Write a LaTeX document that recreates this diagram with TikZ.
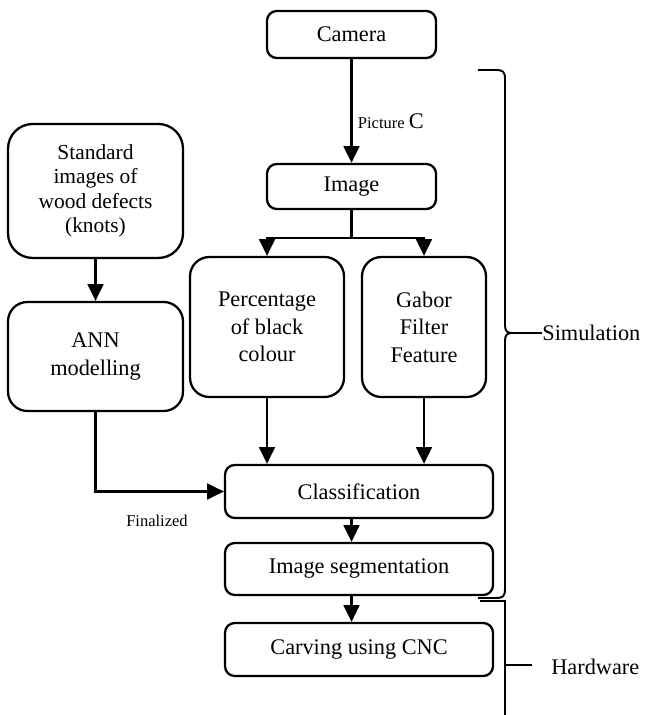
\documentclass[tikz,border=0pt]{standalone}
\usepackage{fontspec}
\setmainfont{Liberation Serif}
\usetikzlibrary{arrows.meta}

\tikzset{
  blk/.style={draw, line width=1.3pt, rounded corners=5.5pt, align=center, inner sep=2pt,
    font=\fontsize{12.7}{15.6}\selectfont},
  tallblk/.style={blk, rounded corners=11pt},
  arr/.style={line width=1.3pt, -{Triangle[length=9.5pt,width=9pt]}},
  lbl/.style={inner sep=0pt, font=\fontsize{12.7}{15.6}\selectfont},
  smalllbl/.style={inner sep=0pt, font=\fontsize{9.4}{11}\selectfont},
}

\begin{document}
\begin{tikzpicture}[x=0.02cm,y=-0.02cm]
\useasboundingbox (0,0) rectangle (646,715);

% blocks
\node[blk, minimum width=3.38cm, minimum height=0.94cm] (camera) at (351.5,34.5) {Camera};
\node[blk, minimum width=3.38cm, minimum height=0.9cm] (image) at (351.5,186.5) {Image};
\node[tallblk, rounded corners=14pt, minimum width=3.5cm, minimum height=2.68cm,
  font=\fontsize{12.2}{13.9}\selectfont] (std) at (95.5,191)
  {Standard\\images of\\wood defects\\(knots)};
\node[tallblk, minimum width=3.5cm, minimum height=2.18cm] (ann) at (95.5,356.5) {ANN\\modelling};
\node[tallblk, minimum width=3.08cm, minimum height=2.8cm] (perc) at (267,327) {Percentage\\of black\\colour};
\node[tallblk, minimum width=2.48cm, minimum height=2.8cm] (gabor) at (424,327) {Gabor\\Filter\\Feature};
\node[blk, minimum width=5.36cm, minimum height=1.06cm] (classif) at (359,491.5) {Classification};
\node[blk, minimum width=5.36cm, minimum height=1.04cm] (seg) at (359,569) {Image segmentation};
\node[blk, minimum width=5.36cm, minimum height=1.06cm] (carve) at (359,649.5) {Carving using CNC};

% connectors
\draw[arr] (camera) -- (image)
  node[pos=0.6, right=3pt, inner sep=0pt, font=\fontsize{9.4}{11}\selectfont]
  (pic) {Picture \fontsize{12.7}{15}\selectfont C};
\draw[line width=1.3pt] (image.south) -- ++(0,28) coordinate (split);
\draw[arr] (split) -| (perc.north);
\draw[arr] (split) -| (gabor.north);
\draw[arr] (std) -- (ann);
\draw[arr] (perc.south) -- (perc.south |- classif.north);
\draw[arr] (gabor.south) -- (gabor.south |- classif.north);
\draw[arr] (ann.south) |- (classif.west);
\node[smalllbl] (fin) at (157,521) {Finalized};
\draw[arr] (image.south |- classif.south) -- (image.south |- seg.north);
\draw[arr] (image.south |- seg.south) -- (image.south |- carve.north);

% brackets
\draw[line width=1.1pt] (478,70) -- (496,70) .. controls (503,70) and (505,72) .. (505,79)
  -- (505,325) .. controls (505,331) and (507,333) .. (512,333) coordinate (simtip)
  .. controls (507,333) and (505,335) .. (505,341)
  -- (505,589) .. controls (505,596) and (503,598) .. (496,598) -- (478,598);
\node[lbl, anchor=west] (sim) at (542,333) {Simulation};
\draw[line width=1.1pt] (simtip) -- (sim.west);

\draw[line width=1.1pt] (480,601) -- (505,601) -- (505,715);
\coordinate (hwtick) at (505,665);
\node[lbl, anchor=west] (hw) at (551,667) {Hardware};
\draw[line width=1.1pt] (hwtick) -- (hwtick -| 532,0);
\end{tikzpicture}
\end{document}
